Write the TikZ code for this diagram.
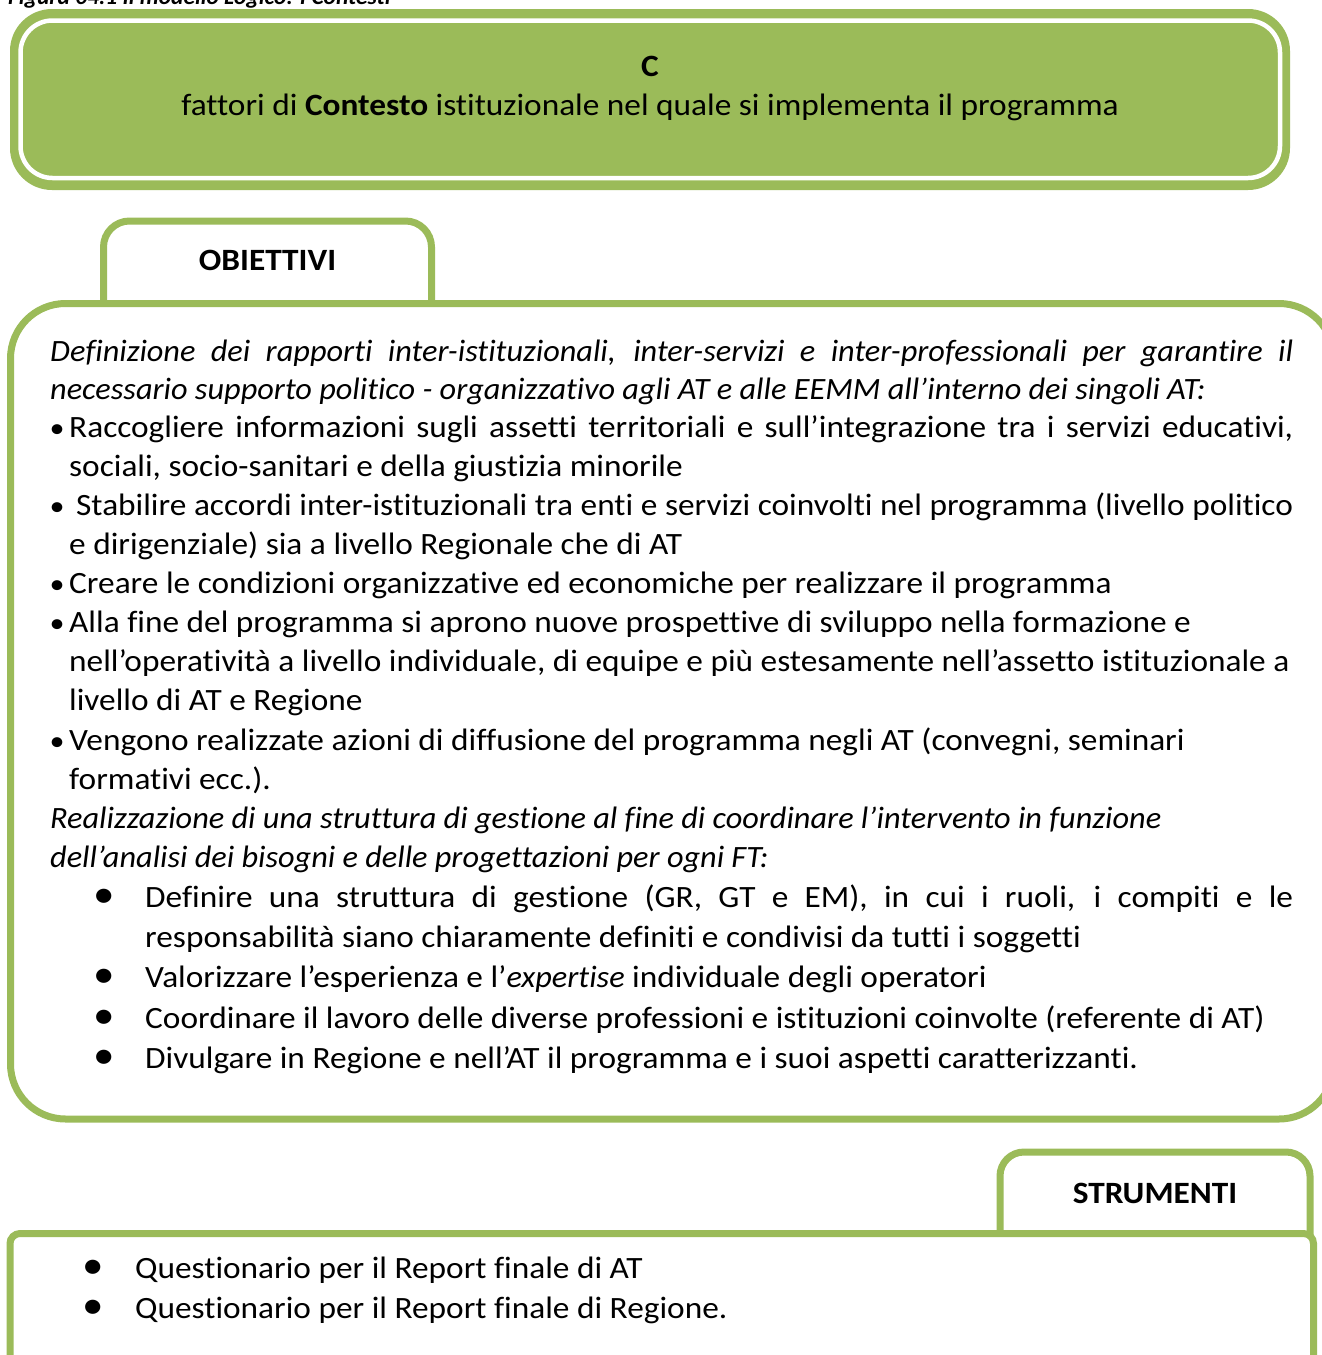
\documentclass[tikz,border=0pt]{standalone}
\usepackage{fontspec}
\setmainfont{Carlito}[Ligatures={NoCommon},
  UprightFeatures={FakeStretch=1.075},
  BoldFeatures={FakeStretch=1.075},
  ItalicFeatures={FakeStretch=1.042},
  BoldItalicFeatures={FakeStretch=1.042}]
\definecolor{gr}{HTML}{9BBB59}
\begin{document}
\begin{tikzpicture}[x=1pt,y=-1pt,
  body/.style={anchor=base west,inner sep=0pt,font=\fontsize{31}{38}\selectfont},
  bodyc/.style={anchor=base,inner sep=0pt,font=\fontsize{31}{38}\selectfont},
  bul/.style={anchor=base,inner sep=0pt,font=\fontsize{28}{38}\selectfont},
  bulbig/.style={anchor=base,inner sep=0pt,font=\fontsize{40}{40}\selectfont},
  label/.style={anchor=base,inner sep=0pt,font=\fontsize{31}{38}\selectfont\bfseries},
  frame/.style={draw=gr,line width=7pt}]
\useasboundingbox (0,0) rectangle (1322,1355);
% caption (cut at top)
\node[anchor=base west,inner sep=0pt,font=\fontsize{22.5}{26}\selectfont\bfseries\itshape] (cap) at (8,4) {Figura 04.1 Il modello Logico: I Contesti};
% header box
\fill[gr,rounded corners=42pt] (10,9) rectangle (1290,190);
\draw[white,line width=4.5pt,rounded corners=32pt] (20.5,20.5) rectangle (1280,178);
\node[label] (c) at (650,76) {C};
\node[bodyc] (ctx) at (650,115) {fattori di \textbf{Contesto} istituzionale nel quale si implementa il programma};
% OBIETTIVI tab
\draw[frame,fill=white,rounded corners=26pt] (103.5,306) -- (103.5,221) -- (431.5,221) -- (431.5,306);
\node[label] (obj) at (267.5,270) {OBIETTIVI};
% main box
\draw[frame,rounded corners=55pt] (10.5,303.5) rectangle (1334,1119);
\node[body] (l1) at (50,361) {\makebox[1243pt][s]{\itshape Definizione dei rapporti inter-istituzionali, inter-servizi e inter-professionali per garantire il}};
\node[body] (l2) at (50,399.5) {\itshape necessario supporto politico - organizzativo agli AT e alle EEMM all’interno dei singoli AT:};
\node[bul] (b3) at (57,437.5) {•};
\node[body] (l3) at (69,437.5) {\makebox[1224pt][s]{Raccogliere informazioni sugli assetti territoriali e sull’integrazione tra i servizi educativi,}};
\node[body] (l4) at (69,476.5) {sociali, socio-sanitari e della giustizia minorile};
\node[bul] (b5) at (57,515.5) {•};
\node[body] (l5) at (76,515.5) {\makebox[1217pt][s]{Stabilire accordi inter-istituzionali tra enti e servizi coinvolti nel programma (livello politico}};
\node[body] (l6) at (69,554.5) {e dirigenziale) sia a livello Regionale che di AT};
\node[bul] (b7) at (57,593.5) {•};
\node[body] (l7) at (69,593.5) {Creare le condizioni organizzative ed economiche per realizzare il programma};
\node[bul] (b8) at (57,632.5) {•};
\node[body] (l8) at (69,632.5) {Alla fine del programma si aprono nuove prospettive di sviluppo nella formazione e};
\node[body] (l9) at (69,671.5) {nell’operatività a livello individuale, di equipe e più estesamente nell’assetto istituzionale a};
\node[body] (l10) at (69,710.5) {livello di AT e Regione};
\node[bul] (b11) at (57,750.5) {•};
\node[body] (l11) at (69,750.5) {Vengono realizzate azioni di diffusione del programma negli AT (convegni, seminari};
\node[body] (l12) at (69,789.5) {formativi ecc.).};
\node[body] (l13) at (50,828.5) {\itshape Realizzazione di una struttura di gestione al fine di coordinare l’intervento in funzione};
\node[body] (l14) at (50,867.5) {\itshape dell’analisi dei bisogni e delle progettazioni per ogni FT:};
\node[bulbig] (b15) at (104,907.5) {•};
\node[body] (l15) at (145,907.5) {\makebox[1148pt][s]{Definire una struttura di gestione (GR, GT e EM), in cui i ruoli, i compiti e le}};
\node[body] (l16) at (145,947.5) {responsabilità siano chiaramente definiti e condivisi da tutti i soggetti};
\node[bulbig] (b17) at (104,987.5) {•};
\node[body] (l17) at (145,987.5) {Valorizzare l’esperienza e l’\textit{expertise} individuale degli operatori};
\node[bulbig] (b18) at (104,1028.5) {•};
\node[body] (l18) at (145,1028.5) {Coordinare il lavoro delle diverse professioni e istituzioni coinvolte (referente di AT)};
\node[bulbig] (b19) at (104,1068.5) {•};
\node[body] (l19) at (145,1068.5) {Divulgare in Regione e nell’AT il programma e i suoi aspetti caratterizzanti.};
% STRUMENTI tab
\draw[frame,fill=white,rounded corners=24pt] (1000,1236) -- (1000,1152) -- (1310,1152) -- (1310,1236);
\node[label] (str) at (1155,1203) {STRUMENTI};
% bottom box
\draw[frame,rounded corners=10pt] (10,1233.5) rectangle (1313.5,1420);
\node[bulbig] (q1b) at (93,1278.5) {•};
\node[body] (q1) at (135,1278.5) {Questionario per il Report finale di AT};
\node[bulbig] (q2b) at (93,1318.5) {•};
\node[body] (q2) at (135,1318.5) {Questionario per il Report finale di Regione.};
\end{tikzpicture}
\end{document}
